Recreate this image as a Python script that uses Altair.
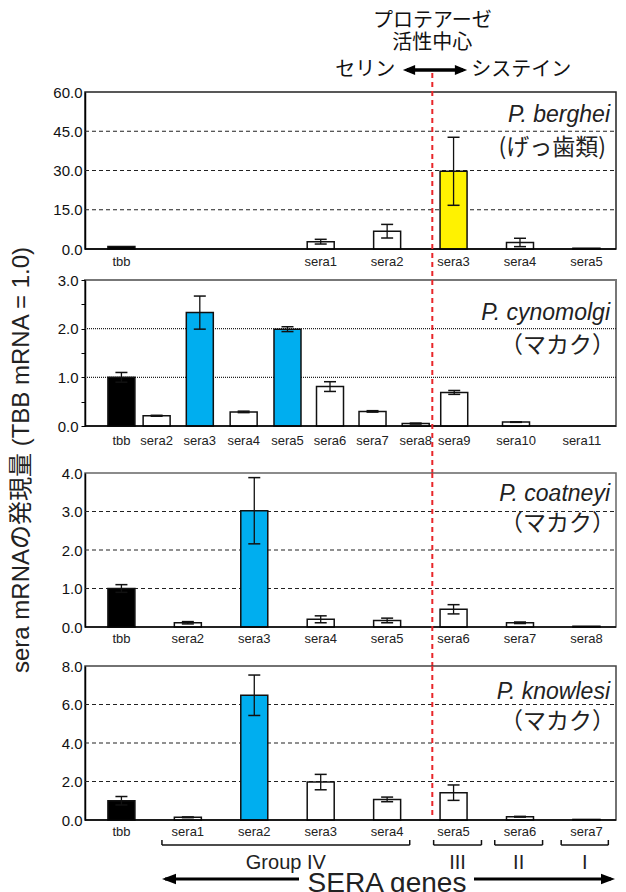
import altair as alt
import pandas as pd

FONT = '"Liberation Sans", Arial, "Noto Sans CJK JP", sans-serif'
JFONT = '"Noto Sans CJK JP", "Liberation Sans", sans-serif'

# ---------------- data ----------------
berghei_genes = ["tbb", "sera1", "sera2", "sera3", "sera4", "sera5"]
berghei_slot = [0, 3, 4, 5, 6, 7]
berghei_mean = [1.0, 2.8, 6.8, 29.7, 2.5, 0.3]
berghei_err = [0.0, 0.9, 2.6, 13.0, 1.6, 0.0]
berghei_kind = ["tbb", "plain", "plain", "yellow", "plain", "plain"]

cyno_genes = ["tbb", "sera2", "sera3", "sera4", "sera5", "sera6", "sera7",
              "sera8", "sera9", "sera10", "sera11"]
cyno_slot = [0, 0.53, 1.18, 1.84, 2.50, 3.14, 3.78, 4.43, 5.01, 5.94, 6.93]
cyno_mean = [1.0, 0.21, 2.33, 0.29, 1.99, 0.81, 0.30, 0.05, 0.69, 0.08, 0.0]
cyno_err = [0.1, 0.01, 0.34, 0.015, 0.05, 0.10, 0.015, 0.01, 0.04, 0.005, 0.0]
cyno_kind = ["tbb", "plain", "blue", "plain", "blue", "plain", "plain",
             "plain", "plain", "plain", "plain"]

coat_genes = ["tbb", "sera2", "sera3", "sera4", "sera5", "sera6", "sera7", "sera8"]
coat_slot = [0, 1, 2, 3, 4, 5, 6, 7]
coat_mean = [1.0, 0.11, 3.02, 0.20, 0.17, 0.46, 0.11, 0.02]
coat_err = [0.1, 0.03, 0.86, 0.09, 0.06, 0.12, 0.02, 0.0]
coat_kind = ["tbb", "plain", "blue", "plain", "plain", "plain", "plain", "plain"]

know_genes = ["tbb", "sera1", "sera2", "sera3", "sera4", "sera5", "sera6", "sera7"]
know_slot = [0, 1, 2, 3, 4, 5, 6, 7]
know_mean = [1.0, 0.14, 6.48, 1.97, 1.07, 1.42, 0.17, 0.03]
know_err = [0.22, 0.02, 1.05, 0.40, 0.12, 0.40, 0.02, 0.0]
know_kind = ["tbb", "plain", "blue", "plain", "plain", "plain", "plain", "plain"]

group_names = ["Group IV", "III", "II", "I"]
group_first = ["sera1", "sera5", "sera6", "sera7"]
group_last = ["sera4", "sera5", "sera6", "sera7"]

BOUNDARY = 4.68  # serine / cysteine active-site boundary (between slots)

# ---------------- layout / style constants ----------------
W = 531
XDOM = [-0.473, 7.370]
BAR_W = 27
COLOR_DOMAIN = ["tbb", "plain", "blue", "yellow"]
COLOR_RANGE = ["#000000", "#ffffff", "#00aeef", "#fff200"]
RED = "#e8262a"
BRACKET_LO_PAD = [0.39, 0.30, 0.38, 0.38]
BRACKET_HI_PAD = [0.34, 0.42, 0.34, 0.33]

one = pd.DataFrame({"k": [0]})


def xq(field):
    return alt.X(f"{field}:Q", scale=alt.Scale(domain=XDOM, nice=False, zero=False), axis=None)


def panel(genes, slots, means, errs, kinds, ymax, yvals, h, grid_vals, grid_dash,
          species, host, sp_y, host_y, host_right, sp_right, label_dy,
          ticks, red_top, red_bottom, label_expr=None):
    df = pd.DataFrame({"gene": genes, "slot": slots, "v": means, "e": errs, "kind": kinds})
    ysc = alt.Scale(domain=[0, ymax], nice=False, zero=True)
    axis_kw = dict(values=yvals, format=".1f", title=None, grid=False, ticks=ticks,
                   tickSize=4, tickColor="#000", tickWidth=1, domainColor="#000",
                   domainWidth=1.5, labelFont=FONT, labelFontSize=15, labelColor="#111",
                   labelPadding=3, labelOverlap=False)
    if label_expr:
        axis_kw["labelExpr"] = label_expr
    yaxis = alt.Axis(**axis_kw)

    grid = alt.Chart(pd.DataFrame({"g": grid_vals})).mark_rule(
        color="#222", strokeWidth=1.2, strokeDash=grid_dash
    ).encode(y=alt.Y("g:Q", scale=ysc, axis=yaxis),
             x=alt.value(0), x2=alt.value(W))

    base = alt.Chart(df)
    bars = base.transform_filter("datum.v > 0").mark_bar(
        size=BAR_W, stroke="#111", strokeWidth=1.5
    ).encode(
        x=xq("slot"),
        y=alt.Y("v:Q", scale=ysc, axis=yaxis),
        color=alt.Color("kind:N", scale=alt.Scale(domain=COLOR_DOMAIN, range=COLOR_RANGE),
                        legend=None),
    )
    eb = base.transform_filter("datum.e > 0").transform_calculate(
        lo="datum.v - datum.e", hi="datum.v + datum.e")
    erule = eb.mark_rule(color="#111", strokeWidth=1.3).encode(
        x=xq("slot"), y=alt.Y("lo:Q", scale=ysc, axis=yaxis), y2="hi:Q")
    cap_hi = eb.mark_tick(orient="horizontal", size=12, thickness=1.5, color="#111",
                          opacity=1).encode(x=xq("slot"), y=alt.Y("hi:Q", scale=ysc, axis=yaxis))
    cap_lo = eb.mark_tick(orient="horizontal", size=12, thickness=1.5, color="#111",
                          opacity=1).encode(x=xq("slot"), y=alt.Y("lo:Q", scale=ysc, axis=yaxis))
    labels = base.mark_text(font=FONT, fontSize=13, baseline="middle", color="#222").encode(
        x=xq("slot"), y=alt.value(h + label_dy), text="gene:N")

    sp = alt.Chart(pd.DataFrame({"t": [species]})).mark_text(
        font=FONT, fontSize=23, fontStyle="italic", align="right", baseline="alphabetic",
        color="#222").encode(x=alt.value(W - sp_right), y=alt.value(sp_y), text="t:N")
    ho = alt.Chart(pd.DataFrame({"t": [host]})).mark_text(
        font=JFONT, fontSize=23, align="right", baseline="middle",
        color="#222").encode(x=alt.value(W - host_right), y=alt.value(host_y), text="t:N")

    baseline = alt.Chart(one).mark_rule(color="#000", strokeWidth=1.5).encode(
        y=alt.value(h), x=alt.value(0), x2=alt.value(W))
    red = alt.Chart(pd.DataFrame({"b": [BOUNDARY]})).mark_rule(
        color=RED, strokeWidth=2, strokeDash=[5, 4]).encode(
        x=xq("b"), y=alt.value(red_top), y2=alt.value(red_bottom))

    return [grid, bars, erule, cap_hi, cap_lo, labels, sp, ho, baseline, red]


def finish(layers, h, stroke, stroke_w):
    return alt.layer(*layers).properties(
        width=W, height=h, view=alt.ViewBackground(stroke=stroke, strokeWidth=stroke_w))


def spacer(h):
    return alt.Chart(one).mark_point(opacity=0).encode(
        x=alt.value(0), y=alt.value(0)).properties(
        width=W, height=h, view=alt.ViewBackground(stroke="transparent"))


GAP12, GAP23, GAP34 = 31, 47, 39

# ---------------- panel 1 : P. berghei ----------------
H1 = 157
l1 = panel(berghei_genes, berghei_slot, berghei_mean, berghei_err, berghei_kind,
           60, [0, 15, 30, 45, 60], H1, [15, 30, 45], [4, 3],
           "P. berghei", "(げっ歯類)", 30, 56, 10, 6, 13, False, -19, H1 + GAP12)

hdr_b = pd.DataFrame({"b": [BOUNDARY]})
hdr = [
    alt.Chart(hdr_b).mark_text(font=JFONT, fontSize=20, baseline="middle", color="#111").encode(
        x=xq("b"), y=alt.value(-71), text=alt.value("プロテアーゼ")),
    alt.Chart(hdr_b).mark_text(font=JFONT, fontSize=20, baseline="middle", color="#111").encode(
        x=xq("b"), y=alt.value(-49), text=alt.value("活性中心")),
    alt.Chart(hdr_b).mark_text(font=JFONT, fontSize=20, baseline="middle", align="right",
                               dx=-37, color="#111").encode(
        x=xq("b"), y=alt.value(-22), text=alt.value("セリン")),
    alt.Chart(hdr_b).mark_text(font=JFONT, fontSize=20, baseline="middle", align="left",
                               dx=39, color="#111").encode(
        x=xq("b"), y=alt.value(-22), text=alt.value("システイン")),
    alt.Chart(one).mark_rule(color="#000", strokeWidth=3.5).encode(
        x=alt.value(322), x2=alt.value(378), y=alt.value(-22)),
    alt.Chart(one).mark_point(shape="M-1,0L1,-0.8L1,0.8Z", filled=True, size=150,
                              color="#000", opacity=1).encode(
        x=alt.value(324), y=alt.value(-22)),
    alt.Chart(one).mark_point(shape="M1,0L-1,-0.8L-1,0.8Z", filled=True, size=150,
                              color="#000", opacity=1).encode(
        x=alt.value(376), y=alt.value(-22)),
]
p1 = finish(l1 + hdr, H1, "#222", 1.5)

# ---------------- panel 2 : P. cynomolgi ----------------
H2 = 146
l2 = panel(cyno_genes, cyno_slot, cyno_mean, cyno_err, cyno_kind,
           3, [0, 0.5, 1, 1.5, 2, 2.5, 3], H2, [1, 2], [1, 1],
           "P. cynomolgi", "（マカク）", 40, 66, 1, 6, 15, True, 0, H2 + GAP23,
           label_expr="datum.value % 1 === 0 ? format(datum.value, '.1f') : ''")

ytitle = alt.Chart(one).mark_text(font=FONT, fontSize=24, angle=270, baseline="middle",
                                  color="#222").encode(
    x=alt.value(-63), y=alt.value(180), text=alt.value("sera mRNAの発現量 (TBB mRNA = 1.0)"))
p2 = finish(l2 + [ytitle], H2, "#777", 2)

# ---------------- panel 3 : P. coatneyi ----------------
H3 = 154
l3 = panel(coat_genes, coat_slot, coat_mean, coat_err, coat_kind,
           4, [0, 1, 2, 3, 4], H3, [1, 2, 3], [4, 3],
           "P. coatneyi", "（マカク）", 28, 51, 1, 6, 12, False, 0, H3 + GAP34)
p3 = finish(l3, H3, "#666", 1.5)

# ---------------- panel 4 : P. knowlesi ----------------
H4 = 154
l4 = panel(know_genes, know_slot, know_mean, know_err, know_kind,
           8, [0, 2, 4, 6, 8], H4, [2, 4, 6], [4, 3],
           "P. knowlesi", "（マカク）", 33, 56, 1, 6, 12, False, 0, H4 - 4)

slot_of = dict(zip(know_genes, know_slot))
g_lo = [slot_of[g] - p for g, p in zip(group_first, BRACKET_LO_PAD)]
g_hi = [slot_of[g] + p for g, p in zip(group_last, BRACKET_HI_PAD)]
gdf = pd.DataFrame({
    "name": group_names,
    "lo": g_lo,
    "hi": g_hi,
    "mid": [(a + b) / 2 for a, b in zip(g_lo, g_hi)],
})
gch = alt.Chart(gdf)
foot = [
    gch.mark_rule(color="#111", strokeWidth=1.5).encode(
        x=xq("lo"), x2="hi:Q", y=alt.value(H4 + 25)),
    gch.mark_rule(color="#111", strokeWidth=1.5).encode(
        x=xq("lo"), y=alt.value(H4 + 20), y2=alt.value(H4 + 25)),
    gch.mark_rule(color="#111", strokeWidth=1.5).encode(
        x=xq("hi"), y=alt.value(H4 + 20), y2=alt.value(H4 + 25)),
    gch.mark_text(font=FONT, fontSize=20, baseline="middle", color="#222").encode(
        x=xq("mid"), y=alt.value(H4 + 43), text="name:N"),
    alt.Chart(one).mark_text(font=FONT, fontSize=28, baseline="middle", color="#222").encode(
        x=alt.value(302), y=alt.value(H4 + 64), text=alt.value("SERA genes")),
    alt.Chart(one).mark_rule(color="#000", strokeWidth=3).encode(
        x=alt.value(80), x2=alt.value(214), y=alt.value(H4 + 59)),
    alt.Chart(one).mark_rule(color="#000", strokeWidth=3).encode(
        x=alt.value(389), x2=alt.value(526), y=alt.value(H4 + 59)),
    alt.Chart(one).mark_point(shape="M-1,0L1,-0.75L1,0.75Z", filled=True, size=196,
                              color="#000", opacity=1).encode(
        x=alt.value(84), y=alt.value(H4 + 59)),
    alt.Chart(one).mark_point(shape="M1,0L-1,-0.75L-1,0.75Z", filled=True, size=196,
                              color="#000", opacity=1).encode(
        x=alt.value(523), y=alt.value(H4 + 59)),
]
p4 = finish(l4 + foot, H4, "#444", 1.5)

chart = alt.vconcat(p1, spacer(GAP12), p2, spacer(GAP23), p3, spacer(GAP34), p4,
                    spacing=0, bounds="flush").properties(
    padding={"left": 0, "top": 2, "right": 0, "bottom": 0},
    background="white",
).configure(font=FONT)

chart.save("out.html", embed_options={"renderer": "svg", "actions": False})
